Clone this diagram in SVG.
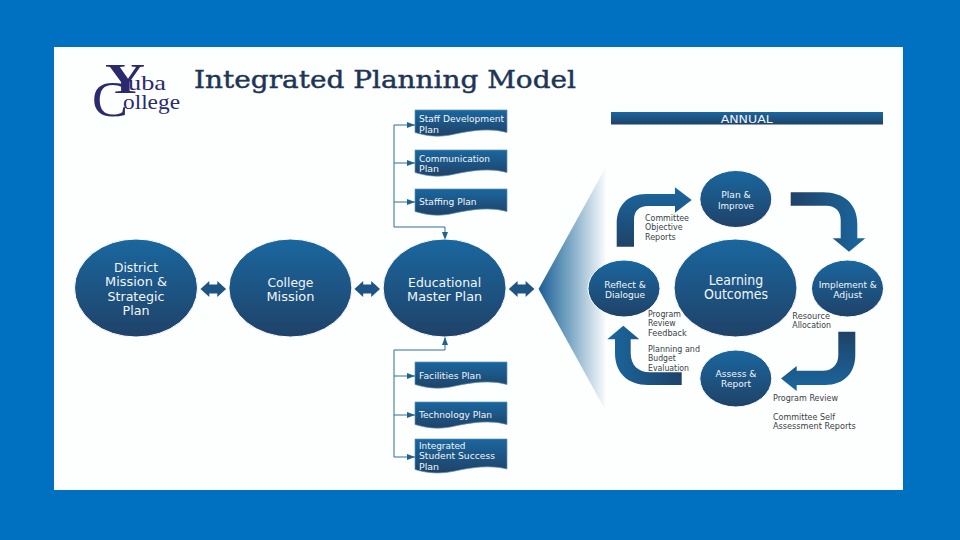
<svg xmlns="http://www.w3.org/2000/svg" xmlns:xlink="http://www.w3.org/1999/xlink" width="960" height="540" viewBox="0 0 960 540">
<style>
.n{fill:url(#g);stroke:#fff;stroke-width:1}
.d{fill:url(#g);stroke:#5b92b3;stroke-width:.7}
text{font-family:"DejaVu Sans","Liberation Sans",sans-serif}
.w{fill:#f2f6fa;text-anchor:middle;font-size:12.500px}
.m{fill:#f2f6fa;text-anchor:middle;font-size:9.500px}
.s{fill:#f2f6fa;font-size:9px}
.l{fill:#3a3f45;font-size:8.500px}
.c{fill:none;stroke:#2f6f97;stroke-width:1}
.h{fill:#1f6391}
.b{fill:#1d5484}
.lg{fill:#2b2a6e;font-family:"Liberation Serif",serif}
</style>
<defs>
<linearGradient id="g" x1="0" y1="0" x2="0" y2="1"><stop offset="0" stop-color="#1a679f"/><stop offset="1" stop-color="#1f4268"/></linearGradient>
<linearGradient id="gu" x1="0" y1="1" x2="0" y2="0"><stop offset="0" stop-color="#1a679f"/><stop offset="1" stop-color="#1f4268"/></linearGradient>
<linearGradient id="gr" x1="0" y1="0" x2="1" y2="0"><stop offset="0" stop-color="#1f4268"/><stop offset="1" stop-color="#1a679f"/></linearGradient>
<linearGradient id="gl" x1="1" y1="0" x2="0" y2="0"><stop offset="0" stop-color="#1f4268"/><stop offset="1" stop-color="#1a679f"/></linearGradient>
<linearGradient id="fan" x1="0" y1="0" x2="1" y2="0"><stop offset="0" stop-color="#1a5f95"/><stop offset=".45" stop-color="#7aa6c4"/><stop offset="1" stop-color="#ffffff"/></linearGradient>
<path id="doc" class="d" d="M0 0H92V22.500C76 18 58 20 40 24C26 27.500 13 26.500 0 22.500Z"/>
<path id="dbl" class="b" d="M-12.800 0L-4 -8V-4.500H4V-8L12.800 0L4 8V4.500H-4V8Z"/>
<marker id="a" markerUnits="userSpaceOnUse" markerWidth="9" markerHeight="7" refX="8" refY="3.500" orient="auto"><path class="h" d="M0 .5L8 3.500L0 6.500Z"/></marker>
</defs>
<rect width="960" height="540" fill="#0070c0"/>
<rect x="54" y="47" width="849" height="443" fill="#fdfefe"/>

<g id="logo">
<text class="lg" x="105" y="93" font-size="42" font-weight="bold" textLength="40" lengthAdjust="spacingAndGlyphs">Y</text>
<text class="lg" x="128" y="90" font-size="22" textLength="38" lengthAdjust="spacingAndGlyphs">uba</text>
<text class="lg" x="92" y="116" font-size="50" textLength="36" lengthAdjust="spacingAndGlyphs">C</text>
<text class="lg" x="123" y="109" font-size="22" textLength="57" lengthAdjust="spacingAndGlyphs">ollege</text>
</g>
<text id="title" x="194" y="88" font-size="25" fill="#1d3557" stroke="#1d3557" stroke-width=".45" style="font-family:'DejaVu Serif','Liberation Serif',serif" textLength="382" lengthAdjust="spacingAndGlyphs">Integrated Planning Model</text>

<g id="connectors">
<path class="c" d="M445 227H394V125" />
<path class="c" d="M394 125H415" marker-end="url(#a)"/>
<path class="c" d="M394 163H415" marker-end="url(#a)"/>
<path class="c" d="M394 202H415" marker-end="url(#a)"/>
<path class="c" d="M445 227V240" marker-end="url(#a)"/>
<path class="c" d="M394 457V350H445V337" marker-end="url(#a)"/>
<path class="c" d="M394 376H415" marker-end="url(#a)"/>
<path class="c" d="M394 415H415" marker-end="url(#a)"/>
<path class="c" d="M394 457H415" marker-end="url(#a)"/>
<use href="#dbl" x="213.300" y="289"/>
<use href="#dbl" x="367.200" y="289"/>
<use href="#dbl" x="521.600" y="289"/>
</g>

<polygon id="fan-shape" points="538.600,289 607,165 607,413" fill="url(#fan)"/>

<g id="annual"><rect x="611" y="112" width="272" height="12.500" fill="url(#g)"/><text class="w" x="746.700" y="123" style="font-size:11px" textLength="52" lengthAdjust="spacingAndGlyphs">ANNUAL</text></g>

<g id="district"><ellipse class="n" cx="136" cy="288" rx="61.500" ry="49"/>
<text class="w" x="136" y="272" textLength="44" lengthAdjust="spacingAndGlyphs">District</text>
<text class="w" x="136" y="286" textLength="62" lengthAdjust="spacingAndGlyphs">Mission &amp;</text>
<text class="w" x="136" y="300.500" textLength="57" lengthAdjust="spacingAndGlyphs">Strategic</text>
<text class="w" x="136" y="315" textLength="27" lengthAdjust="spacingAndGlyphs">Plan</text></g>
<g id="college"><ellipse class="n" cx="290.400" cy="288" rx="61.500" ry="49"/>
<text class="w" x="290.400" y="286.500" textLength="46" lengthAdjust="spacingAndGlyphs">College</text>
<text class="w" x="290.400" y="300.500" textLength="48" lengthAdjust="spacingAndGlyphs">Mission</text></g>
<g id="educational"><ellipse class="n" cx="444.600" cy="288" rx="61.500" ry="49"/>
<text class="w" x="444.600" y="286.500" textLength="73" lengthAdjust="spacingAndGlyphs">Educational</text>
<text class="w" x="444.600" y="300.500" textLength="75" lengthAdjust="spacingAndGlyphs">Master Plan</text></g>

<g id="staff-dev"><use href="#doc" x="415" y="110"/><text class="s" x="419" y="122" textLength="85" lengthAdjust="spacingAndGlyphs">Staff Development</text><text class="s" x="419" y="132.500" textLength="20" lengthAdjust="spacingAndGlyphs">Plan</text></g>
<g id="communication"><use href="#doc" x="415" y="150"/><text class="s" x="419" y="161.500" textLength="71" lengthAdjust="spacingAndGlyphs">Communication</text><text class="s" x="419" y="171.500" textLength="20" lengthAdjust="spacingAndGlyphs">Plan</text></g>
<g id="staffing"><use href="#doc" x="415" y="189"/><text class="s" x="419" y="205" textLength="57.500" lengthAdjust="spacingAndGlyphs">Staffing Plan</text></g>
<g id="facilities"><use href="#doc" x="415" y="362" /><text class="s" x="419" y="379" textLength="62" lengthAdjust="spacingAndGlyphs">Facilities Plan</text></g>
<g id="technology"><use href="#doc" x="415" y="402"/><text class="s" x="419" y="417.500" textLength="73" lengthAdjust="spacingAndGlyphs">Technology Plan</text></g>
<g id="student-success"><path class="d" d="M415 439H507V469C491 465 473 467 455 471C441 474 428 473.500 415 469.500Z"/>
<text class="s" x="419" y="448.500" textLength="46.500" lengthAdjust="spacingAndGlyphs">Integrated</text>
<text class="s" x="419" y="459" textLength="76" lengthAdjust="spacingAndGlyphs">Student Success</text>
<text class="s" x="419" y="469.500" textLength="20" lengthAdjust="spacingAndGlyphs">Plan</text></g>

<g id="cycle-arrows">
<path fill="url(#g)" d="M616.700 246.700V224C616.700 205 628 194 646 194H675V187.300L691.700 200L675 212.700V206H648C639 206 634 211 634 220V246.700Z"/>
<path fill="url(#gr)" d="M790.700 192.300H823C844 192.300 857.300 204 857.300 224V238.300H865.300L849 251.700L832.700 238.300H840.700V220C840.700 211 835 205.700 826.700 205.700H790.700Z"/>
<path fill="url(#gu)" d="M838.300 331.700V355C838.300 365 832 370.700 823 370.700H796.700V366L781 378.500L796.700 391V385H825C844 385 855.300 373 855.300 355V331.700Z"/>
<path fill="url(#gl)" d="M681.700 372.300H650C638 372.300 630.700 365 630.700 353V339.300H639.300L623.300 325.700L607.300 339.300H615V353C615 373 628 385 648 385H681.700Z"/>
</g>

<g id="plan-improve"><ellipse class="n" cx="735.800" cy="199" rx="36" ry="28.500"/><text class="m" x="736" y="198" textLength="29.500" lengthAdjust="spacingAndGlyphs">Plan &amp;</text><text class="m" x="736" y="208.500" textLength="36" lengthAdjust="spacingAndGlyphs">Improve</text></g>
<g id="learning"><ellipse class="n" cx="735.500" cy="288" rx="61.500" ry="49"/><text class="w" x="736" y="284.500" textLength="54.500" lengthAdjust="spacingAndGlyphs" style="font-size:13.500px">Learning</text><text class="w" x="736" y="298.500" textLength="64" lengthAdjust="spacingAndGlyphs" style="font-size:13.500px">Outcomes</text></g>
<g id="reflect"><ellipse class="n" cx="624" cy="288.500" rx="36" ry="28.500"/><text class="m" x="625" y="287.500" textLength="41.500" lengthAdjust="spacingAndGlyphs">Reflect &amp;</text><text class="m" x="625" y="298" textLength="40" lengthAdjust="spacingAndGlyphs">Dialogue</text></g>
<g id="implement"><ellipse class="n" cx="847.500" cy="288.500" rx="36" ry="28.500"/><text class="m" x="847.700" y="287.500" textLength="58" lengthAdjust="spacingAndGlyphs">Implement &amp;</text><text class="m" x="847.700" y="298" textLength="29" lengthAdjust="spacingAndGlyphs">Adjust</text></g>
<g id="assess"><ellipse class="n" cx="735.800" cy="378.500" rx="36" ry="28.500"/><text class="m" x="736" y="377" textLength="41" lengthAdjust="spacingAndGlyphs">Assess &amp;</text><text class="m" x="736" y="387" textLength="30" lengthAdjust="spacingAndGlyphs">Report</text></g>

<g id="labels">
<text class="l" x="645" y="221" textLength="44" lengthAdjust="spacingAndGlyphs">Committee</text>
<text class="l" x="645" y="230" textLength="37.500" lengthAdjust="spacingAndGlyphs">Objective</text>
<text class="l" x="645" y="239.500" textLength="30.700" lengthAdjust="spacingAndGlyphs">Reports</text>
<text class="l" x="648" y="317" textLength="33" lengthAdjust="spacingAndGlyphs">Program</text>
<text class="l" x="648" y="326" textLength="27.700" lengthAdjust="spacingAndGlyphs">Review</text>
<text class="l" x="648" y="335.500" textLength="38.700" lengthAdjust="spacingAndGlyphs">Feedback</text>
<text class="l" x="648" y="352" textLength="52" lengthAdjust="spacingAndGlyphs">Planning and</text>
<text class="l" x="648" y="361" textLength="27.700" lengthAdjust="spacingAndGlyphs">Budget</text>
<text class="l" x="648" y="370.500" textLength="41" lengthAdjust="spacingAndGlyphs">Evaluation</text>
<text class="l" x="792.300" y="318.500" textLength="37.700" lengthAdjust="spacingAndGlyphs">Resource</text>
<text class="l" x="792.300" y="328" textLength="38.700" lengthAdjust="spacingAndGlyphs">Allocation</text>
<text class="l" x="773" y="401" textLength="65" lengthAdjust="spacingAndGlyphs">Program Review</text>
<text class="l" x="773" y="419.500" textLength="62" lengthAdjust="spacingAndGlyphs">Committee Self</text>
<text class="l" x="773" y="429" textLength="82.700" lengthAdjust="spacingAndGlyphs">Assessment Reports</text>
</g>
</svg>
